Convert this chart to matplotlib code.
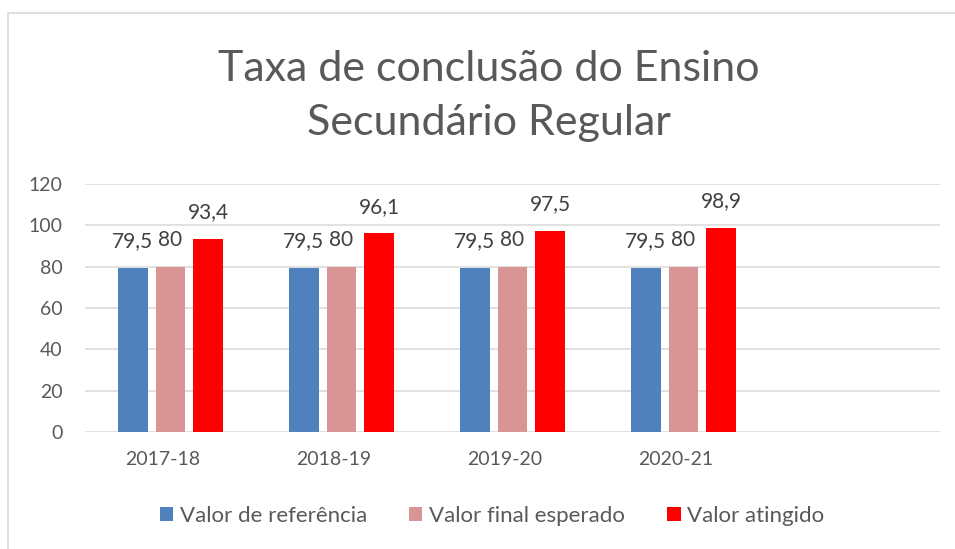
import matplotlib
matplotlib.use("Agg")
import matplotlib.pyplot as plt
import matplotlib.transforms as mtransforms
from matplotlib.lines import Line2D
import numpy as np

categories = ["2017-18", "2018-19", "2019-20", "2020-21"]
series_names = ["Valor de referência", "Valor final esperado", "Valor atingido"]
valor_referencia = [79.5, 79.5, 79.5, 79.5]
valor_esperado = [80, 80, 80, 80]
valor_atingido = [93.4, 96.1, 97.5, 98.9]
yticks = [0, 20, 40, 60, 80, 100, 120]
title = "Taxa de conclusão do Ensino\nSecundário Regular"

colors = ["#4f81bd", "#d99594", "#ff0000"]
text_color = "#595959"
grid_color = "#d9d9d9"

plt.rcParams["font.family"] = ["Lato", "DejaVu Sans"]

W, H = 955, 549
fig = plt.figure(figsize=(W / 100, H / 100), dpi=100)
ax = fig.add_axes([85 / W, 1 - 432 / H, (940 - 85) / W, (432 - 184) / H])

x = np.arange(len(categories))
width = 0.175
step = 0.222
all_series = [valor_referencia, valor_esperado, valor_atingido]
for i, (vals, name, c) in enumerate(zip(all_series, series_names, colors)):
    pos = x + (i - 1) * step
    bars = ax.bar(pos, vals, width=width, color=c, label=name, zorder=3)
    for b, v in zip(bars, vals):
        lab = f"{v:g}".replace(".", ",")
        ax.annotate(lab, (b.get_x() + b.get_width() / 2, v),
                    xytext=(0, 12), textcoords="offset points",
                    ha="center", va="bottom", fontsize=15, color="#404040")

ax.set_xlim(-0.5, 4.5)
ax.set_ylim(0, 120)
ax.set_yticks(yticks)
ax.set_xticks(x)
ax.set_xticklabels(categories)
ax.grid(axis="y", color=grid_color, linewidth=1.1, zorder=0)
ax.set_axisbelow(True)
for s in ax.spines.values():
    s.set_visible(False)
ax.tick_params(axis="both", length=0, colors=text_color, labelsize=14)
ax.tick_params(axis="y", pad=16)
ax.tick_params(axis="x", pad=14)
offset = mtransforms.ScaledTranslation(-8 / 100, 0, fig.dpi_scale_trans)
for lbl in ax.get_xticklabels():
    lbl.set_transform(lbl.get_transform() + offset)

fig.text(489 / W, 1 - 96 / H, title, ha="center", va="center",
         fontsize=31, color=text_color, linespacing=1.54)

leg = fig.legend(loc="center", bbox_to_anchor=(492 / W, 1 - 516 / H), ncol=3,
                 frameon=False, fontsize=16, handlelength=0.6, handleheight=0.6,
                 handletextpad=0.3, columnspacing=1.9)
for t in leg.get_texts():
    t.set_color(text_color)

fig.add_artist(Line2D([7.5 / W, 7.5 / W, 1.0], [0, 1 - 12.5 / H, 1 - 12.5 / H],
                      transform=fig.transFigure, color=grid_color, linewidth=1.2))

fig.savefig("out.png", dpi=100)
